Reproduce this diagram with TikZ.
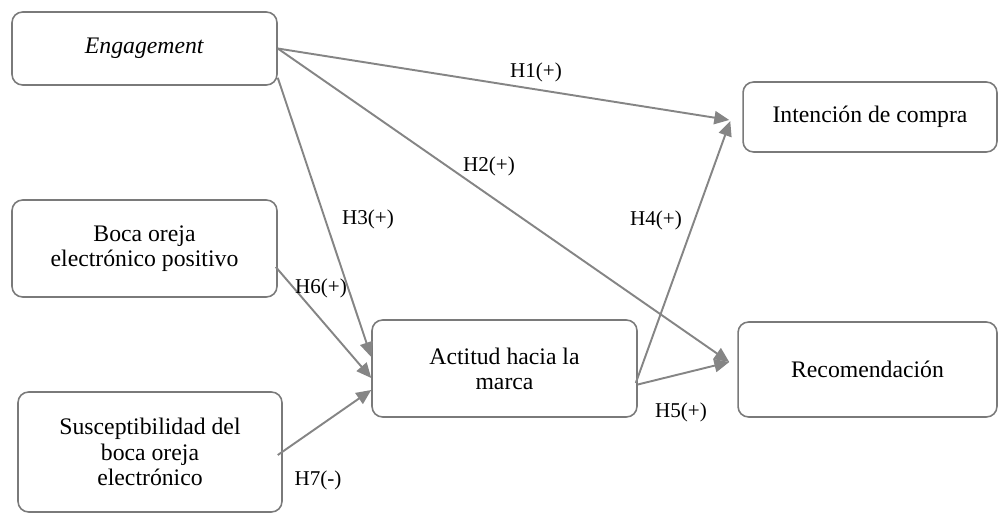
\documentclass[tikz,border=0pt]{standalone}
\usepackage{fontspec}
\setmainfont{Liberation Serif}
\usetikzlibrary{arrows.meta}

\definecolor{boxgray}{HTML}{7A7A7A}
\definecolor{arrowgray}{HTML}{858585}

\tikzset{
    caja/.style={draw=boxgray, line width=0.9pt, rounded corners=6pt, align=center,
        inner sep=0pt, font=\fontsize{13.5}{14.3}\selectfont},
    flecha/.style={draw=arrowgray, line width=1.1pt, -{Triangle[length=8.5pt,width=7.5pt]}},
    etiq/.style={inner sep=0pt, font=\fontsize{12}{14}\selectfont}
}

\begin{document}
\begin{tikzpicture}[x=0.02cm,y=-0.02cm]
        \useasboundingbox (0,0) rectangle (999,514);

        % Independent variables
        \node[caja, minimum width=5.3cm, minimum height=1.46cm] (eng) at (144.5,48.5) {\textit{Engagement}};
        \node[caja, minimum width=5.3cm, minimum height=1.94cm] (boca) at (144.5,248.5) {Boca oreja\\electrónico positivo};
        \node[caja, minimum width=5.28cm, minimum height=2.4cm] (susc) at (150,452) {Susceptibilidad del\\boca oreja\\electrónico};

        % Mediator
        \node[caja, minimum width=5.3cm, minimum height=1.94cm] (act) at (504.5,368.5) {Actitud hacia la\\marca};

        % Outcomes
        \node[caja, minimum width=5.08cm, minimum height=1.4cm] (int) at (870,117) {Intención de compra};
        \node[caja, minimum width=5.18cm, minimum height=1.9cm] (rec) at (867.5,369.5) {Recomendación};

        % Hypotheses
        \draw[flecha] (eng.east) -- ([xshift=-0.26cm,yshift=-0.06cm]int.west);
        \draw[flecha] (eng.east) -- ([xshift=-0.16cm,yshift=0.15cm]rec.west);
        \draw[flecha] ([yshift=0.16cm]eng.south east) -- ([yshift=0.23cm]act.west);
        \draw[flecha] ([xshift=-0.04cm,yshift=-0.37cm]boca.east) -- ([yshift=-0.19cm]act.west);
        \draw[flecha] ([xshift=-0.1cm,yshift=-0.06cm]susc.east) -- ([yshift=-0.43cm]act.west);
        \draw[flecha] ([xshift=-0.04cm,yshift=-0.29cm]act.east) -- ([xshift=-0.24cm,yshift=-0.08cm]int.west);
        \draw[flecha] ([yshift=-0.32cm]act.east) -- ([xshift=-0.16cm,yshift=0.15cm]rec.west);

        % Labels
        \node[etiq] (h1) at (536,72) {H1(+)};
        \node[etiq] (h2) at (489,166) {H2(+)};
        \node[etiq] (h3) at (368,219) {H3(+)};
        \node[etiq] (h4) at (656,220) {H4(+)};
        \node[etiq] (h5) at (681,412) {H5(+)};
        \node[etiq] (h6) at (321,288) {H6(+)};
        \node[etiq] (h7) at (318,480) {H7(-)};
\end{tikzpicture}
\end{document}
